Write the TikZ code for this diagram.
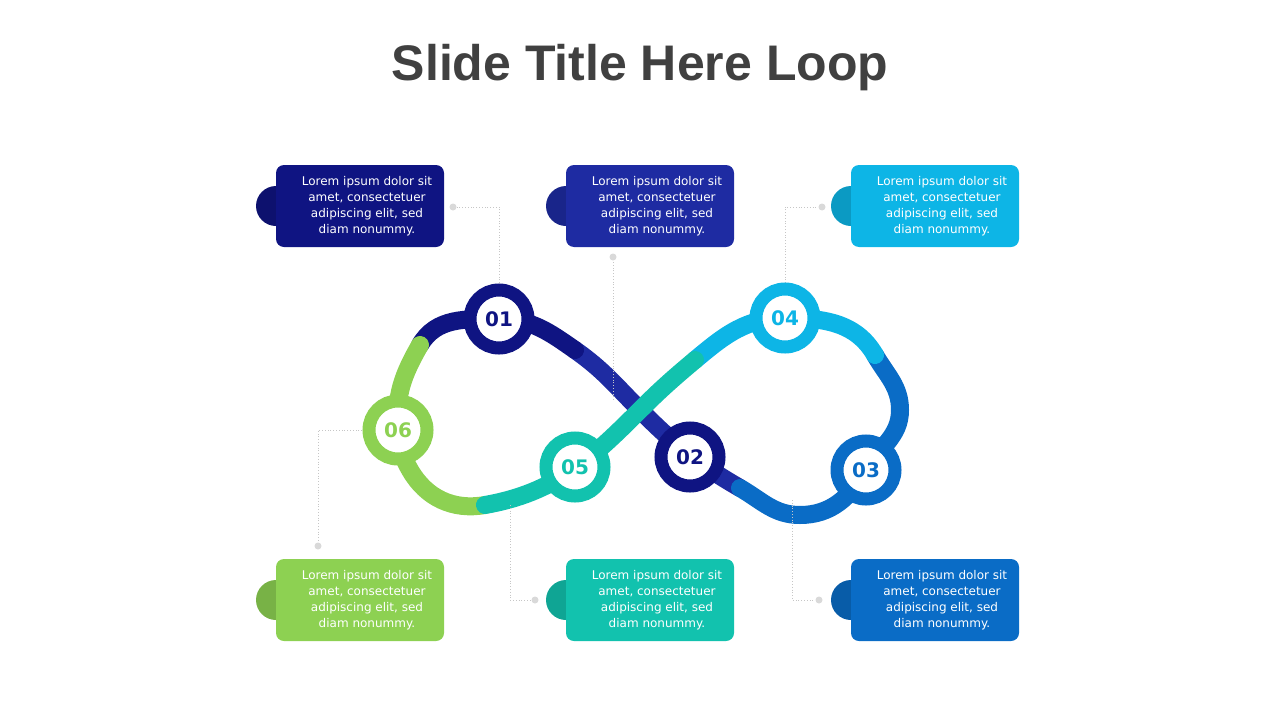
\documentclass[tikz,border=0pt]{standalone}
\usepackage{fontspec}
\setmainfont{DejaVu Sans}
\newfontfamily\titlefont{Liberation Sans}
\usetikzlibrary{positioning}
\definecolor{cNavy}{HTML}{0F1482}
\definecolor{cBlue}{HTML}{1E2BA2}
\definecolor{cDark}{HTML}{0A6CC6}
\definecolor{cSky}{HTML}{0DB5E6}
\definecolor{cTeal}{HTML}{12C2AE}
\definecolor{cGreen}{HTML}{8DD152}
\definecolor{cTitle}{HTML}{404040}
\tikzset{
  loop/.style={line width=9pt, line cap=round},
  ring/.style={circle, fill=white, draw=#1, line width=6.5pt, minimum size=29pt, inner sep=0pt,
    text=#1, font=\bfseries\fontsize{10}{10}\selectfont},
  box/.style={rounded corners=4pt, fill=#1, minimum width=84pt, minimum height=41pt, inner sep=0pt},
  tab/.style={circle, fill=#1!85!black, minimum size=20pt, inner sep=0pt},
  lorem/.style={text=white, align=center, font=\fontsize{6}{8}\selectfont},
  leader/.style={draw=gray!45, line width=0.4pt, densely dotted},
  pin/.style={circle, fill=gray!30, minimum size=3.5pt, inner sep=0pt}
}
\newcommand{\lorem}{Lorem ipsum dolor sit\\amet, consectetuer\\adipiscing elit, sed\\diam nonummy.}
\begin{document}
\begin{tikzpicture}[x=0.5pt, y=0.5pt]
\useasboundingbox (0,0) rectangle (1280,720);

% title
\node[font=\titlefont\bfseries\fontsize{25}{25}\selectfont, text=cTitle] (title) at (640,652) {Slide Title Here Loop};

% loop points
\coordinate (pA) at (420,375);
\coordinate (pB) at (499,401);
\coordinate (pC) at (575,370);
\coordinate (pD) at (640,310);
\coordinate (pE) at (740,232);
\coordinate (pF) at (800,205);
\coordinate (pG) at (900,310);
\coordinate (pH) at (875,365);
\coordinate (pI) at (695,360);
\coordinate (pJ) at (485,215);
\coordinate (pK) at (410,250);

% loop
\draw[loop, cBlue] (pC) to[out=-35,in=135] (pD) to[out=-45,in=150] (pE);
\draw[loop, cDark] (pE) to[out=-30,in=180] (pF) to[out=0,in=240] (866,250) to[out=60,in=-90] (pG) to[out=90,in=-60] (pH);
\draw[loop, cNavy] (pA) to[out=60,in=180] (pB) to[out=0,in=145] (pC);
\draw[loop, cSky] (pH) to[out=120,in=0] (785,402) to[out=180,in=40] (pI);
\draw[loop, cGreen] (pJ) to[out=190,in=-60] (pK) to[out=120,in=-85] (398,290) to[out=95,in=240] (pA);
\draw[loop, cTeal] (pI) to[out=220,in=45] (pD) to[out=225,in=10] (pJ);

% leaders
\node[pin] (d1) at (453,513) {};
\node[pin] (d2) at (613,463) {};
\node[pin] (d4) at (822,513) {};
\node[pin] (d6) at (318,174) {};
\node[pin] (d5) at (535,120) {};
\node[pin] (d3) at (819,120) {};
\draw[leader] (499,437) |- (d1);
\draw[leader] (613,320) -- (d2);
\draw[leader] (785,437) |- (d4);
\draw[leader] (362,290) -| (d6);
\draw[leader] (510,215) |- (d5);
\draw[leader] (792,220) |- (d3);

% steps
\node[ring=cNavy] (n1) at (499,401) {01};
\node[ring=cNavy] (n2) at (690,263) {02};
\node[ring=cDark] (n3) at (866,250) {03};
\node[ring=cSky] (n4) at (785,402) {04};
\node[ring=cTeal] (n5) at (575,253) {05};
\node[ring=cGreen] (n6) at (398,290) {06};

% boxes
\foreach \nm/\cx/\cy/\col in {b1/360/514/cNavy, b2/650/514/cBlue, b4/935/514/cSky,
                             b6/360/120/cGreen, b5/650/120/cTeal, b3/935/120/cDark} {
  \node[tab=\col] (\nm t) at (\cx-84,\cy) {};
  \node[box=\col] (\nm) at (\cx,\cy) {};
  \node[lorem] at (\cx+7,\cy) {\lorem};
}
\end{tikzpicture}
\end{document}
